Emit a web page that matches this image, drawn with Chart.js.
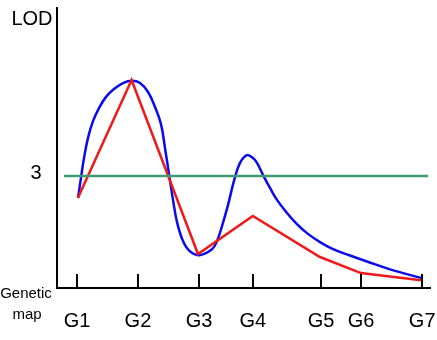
<!DOCTYPE html>
<html>
<head>
<meta charset="utf-8">
<script src="https://cdn.jsdelivr.net/npm/chart.js@4/dist/chart.umd.min.js"></script>
<style>
  body { margin: 0; background: #fff; }
  #wrap { width: 437px; height: 340px; position: relative; }
</style>
</head>
<body>
<div id="wrap"><canvas id="lodChart"></canvas></div>
<script>
// marker positions along the genetic map and their names
var markerPos = [5.4, 21.7, 38.1, 52.5, 70.8, 81.5, 97.9];
var markerNames = ["G1", "G2", "G3", "G4", "G5", "G6", "G7"];

// single marker analysis (red, straight segments)
var redX = [5.6, 20.0, 37.8, 52.5, 70.5, 81.5, 97.6];
var redY = [2.41, 5.57, 0.91, 1.93, 0.83, 0.40, 0.21];

// interval mapping (blue, smooth curve)
var blueX = [5.63, 6.43, 7.24, 8.31, 9.65, 11.26, 13.14, 15.28, 17.69, 20.11, 22.25, 24.40, 26.27, 27.88, 28.95, 30.03, 31.10, 32.17, 33.78, 35.66, 38.07, 41.55, 42.90, 44.24, 45.84, 47.45, 49.06, 50.94, 52.55, 53.62, 55.23, 57.10, 58.98, 61.66, 64.34, 67.02, 70.51, 74.00, 78.55, 83.11, 89.28, 97.59];
var blueY = [2.41, 2.95, 3.48, 4.02, 4.47, 4.82, 5.12, 5.33, 5.49, 5.55, 5.49, 5.25, 4.85, 4.39, 3.75, 3.05, 2.36, 1.77, 1.26, 0.98, 0.88, 1.04, 1.26, 1.66, 2.22, 2.87, 3.35, 3.56, 3.48, 3.35, 3.03, 2.68, 2.36, 2.01, 1.71, 1.47, 1.23, 1.04, 0.87, 0.71, 0.50, 0.27];

// LOD threshold line
var thresholdX = [1.9, 99.5];
var threshold = 3;

var fontFam = '"Liberation Sans", Arial, sans-serif';

function toPoints(xs, ys) {
    var pts = [];
    for (var i = 0; i < xs.length; i++) {
        pts.push({ x: xs[i], y: ys[i] });
    }
    return pts;
}

// draws the inward tick marks and all the axis texts
var axisText = {
    id: 'axisText',
    afterDraw: function (chart) {
        var ctx = chart.ctx;
        var xs = chart.scales.x;
        var ys = chart.scales.y;
        var bottom = chart.chartArea.bottom;
        var left = chart.chartArea.left;
        ctx.save();
        ctx.strokeStyle = '#000';
        ctx.lineWidth = 2;
        for (var i = 0; i < markerPos.length; i++) {
            var px = Math.round(xs.getPixelForValue(markerPos[i]));
            ctx.beginPath();
            ctx.moveTo(px, bottom);
            ctx.lineTo(px, bottom - 14);
            ctx.stroke();
        }
        ctx.fillStyle = '#000';
        ctx.textAlign = 'center';
        ctx.textBaseline = 'middle';
        ctx.font = '20px ' + fontFam;
        for (var j = 0; j < markerNames.length; j++) {
            ctx.fillText(markerNames[j], xs.getPixelForValue(markerPos[j]), bottom + 33);
        }
        ctx.fillText('3', left - 21, ys.getPixelForValue(threshold) - 3);
        ctx.fillText('LOD', left - 25, chart.chartArea.top + 11);
        ctx.font = '15px ' + fontFam;
        ctx.fillText('Genetic', left - 31, bottom + 6);
        ctx.fillText('map', left - 30, bottom + 27);
        ctx.restore();
    }
};

var ctx = document.getElementById('lodChart').getContext('2d');
var chartObj = new Chart(ctx, {
    type: 'line',
    data: {
        datasets: [
            {
                label: 'Threshold',
                data: toPoints(thresholdX, [threshold, threshold]),
                borderColor: '#3f9a72',
                borderWidth: 2.5,
                pointRadius: 0,
                fill: false
            },
            {
                label: 'Single marker',
                data: toPoints(redX, redY),
                borderColor: '#f01818',
                borderWidth: 2.5,
                pointRadius: 0,
                tension: 0,
                fill: false
            },
            {
                label: 'Interval mapping',
                data: toPoints(blueX, blueY),
                borderColor: '#0a0af0',
                borderWidth: 2.5,
                pointRadius: 0,
                tension: 0.4,
                fill: false
            }
        ]
    },
    options: {
        responsive: true,
        maintainAspectRatio: false,
        animation: false,
        layout: { padding: { left: 57, right: 7, top: 8, bottom: 52 } },
        scales: {
            x: {
                type: 'linear',
                min: 0,
                max: 100,
                ticks: { display: false },
                grid: { display: false, drawTicks: false },
                border: { display: true, color: '#000', width: 2 }
            },
            y: {
                min: 0,
                max: 7.5,
                ticks: { display: false },
                grid: { display: false, drawTicks: false },
                border: { display: true, color: '#000', width: 2 }
            }
        },
        plugins: {
            legend: { display: false },
            tooltip: { enabled: false }
        }
    },
    plugins: [axisText]
});
</script>
</body>
</html>
